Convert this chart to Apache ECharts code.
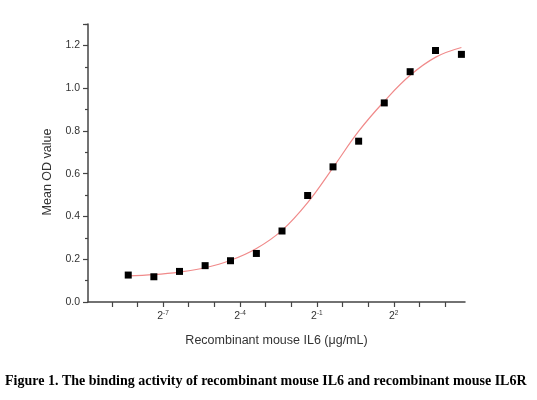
<!DOCTYPE html>
<html>
<head>
<meta charset="utf-8">
<script src="https://cdn.jsdelivr.net/npm/echarts@6/dist/echarts.min.js"></script>
<style>
    html, body { margin: 0; padding: 0; background: #fff; }
    #main { width: 537px; height: 400px; }
</style>
</head>
<body>
<div id="main"></div>
<script>
// 浓度 (log2 μg/mL) 和 OD 值
var doseLog2 = [-8.36, -7.36, -6.36, -5.36, -4.37, -3.36, -2.36, -1.36, -0.37, 0.63, 1.63, 2.64, 3.63, 4.64]
var meanOD = [0.126, 0.118, 0.143, 0.170, 0.193, 0.227, 0.332, 0.498, 0.632, 0.752, 0.931, 1.077, 1.176, 1.158]

// 拟合曲线
var fitLog2 = [-8.36, -7.36, -6.36, -5.36, -4.36, -3.36, -2.36, -1.36, -0.36, 0.64, 1.64, 2.64, 3.64, 4.64]
var fitOD = [0.122, 0.128, 0.140, 0.160, 0.195, 0.250, 0.335, 0.465, 0.630, 0.800, 0.940, 1.060, 1.145, 1.190]

// 刻度
var xTicks = [-9, -8, -7, -6, -5, -4, -3, -2, -1, 0, 1, 2, 3, 4]
var xLabels = [-7, -4, -1, 2]

var myChart = echarts.init(document.getElementById('main'))

var axisColor = '#444'
var font = 'Liberation Sans, Arial, sans-serif'

var option = {
    animation: false,
    grid: { left: 88, right: 72, top: 24, bottom: 98 },
    xAxis: {
        type: 'value',
        min: -9.93,
        max: 4.78,
        name: 'Recombinant mouse IL6 (μg/mL)',
        nameLocation: 'middle',
        nameGap: 32,
        nameTextStyle: { fontFamily: font, fontSize: 12.5, color: '#333' },
        axisLine: { show: true, onZero: false, lineStyle: { color: axisColor, width: 1.5 } },
        axisTick: { show: true, length: 5, customValues: xTicks, lineStyle: { color: axisColor, width: 1.2 } },
        splitLine: { show: false },
        axisLabel: {
            customValues: xLabels,
            margin: 8,
            formatter: function (v) {
                return '{b|2}{s|' + v + '}'
            },
            rich: {
                b: { fontFamily: font, fontSize: 10.5, color: '#333', lineHeight: 12 },
                s: { fontFamily: font, fontSize: 6.5, color: '#333', verticalAlign: 'top', lineHeight: 12, padding: [0, 0, 5, 0] }
            }
        }
    },
    yAxis: {
        type: 'value',
        min: 0,
        max: 1.3,
        interval: 0.2,
        name: 'Mean OD value',
        nameLocation: 'middle',
        nameGap: 34,
        nameTextStyle: { fontFamily: font, fontSize: 12.5, color: '#333', padding: [0, 0, 0, -18] },
        axisLine: { show: true, onZero: false, lineStyle: { color: axisColor, width: 1.5 } },
        axisTick: { show: true, length: 5, lineStyle: { color: axisColor, width: 1.2 } },
        minorTick: { show: true, splitNumber: 2, length: 3, lineStyle: { color: axisColor, width: 1.2 } },
        splitLine: { show: false },
        axisLabel: {
            fontFamily: font,
            fontSize: 10.5,
            color: '#333',
            margin: 8,
            formatter: function (v) {
                return v > 1.25 ? '' : v.toFixed(1)
            }
        }
    },
    series: [
        {
            type: 'line',
            data: fitLog2.map(function (x, i) { return [x, fitOD[i]] }),
            smooth: 0.4,
            showSymbol: false,
            lineStyle: { color: '#f08a8a', width: 1.2 },
            z: 1
        },
        {
            type: 'scatter',
            data: doseLog2.map(function (x, i) { return [x, meanOD[i]] }),
            symbol: 'rect',
            symbolSize: 7,
            itemStyle: { color: '#000', opacity: 1 },
            z: 2
        }
    ],
    graphic: [
        {
            type: 'text',
            left: 5,
            top: 374,
            style: {
                text: 'Figure 1. The binding activity of recombinant mouse IL6 and recombinant mouse IL6R',
                font: 'bold 14px "Liberation Serif", "Times New Roman", serif',
                fill: '#000'
            }
        }
    ]
}

myChart.setOption(option)
</script>
</body>
</html>
